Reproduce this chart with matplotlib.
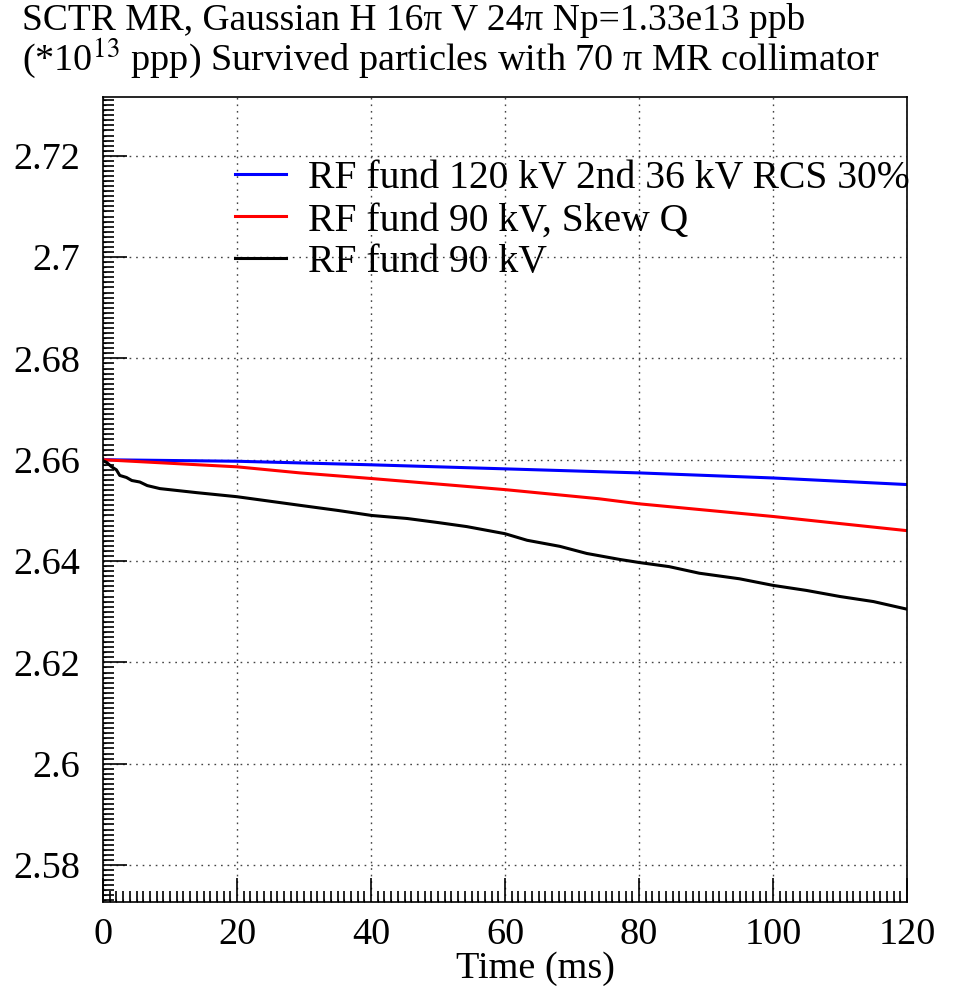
import matplotlib
matplotlib.use('Agg')
import matplotlib.pyplot as plt
from matplotlib.ticker import MultipleLocator

# Survived particles (*1e13 ppp) vs time (ms)
t_blue = [0, 20, 40, 60, 80, 100, 120]
v_blue = [2.6600, 2.6597, 2.6590, 2.6582, 2.6574, 2.6564, 2.6551]

t_red = [0, 20, 29.4, 40, 60, 74, 80, 100, 120]
v_red = [2.6600, 2.6586, 2.6574, 2.6563, 2.6541, 2.6523, 2.6513, 2.6488, 2.6460]

t_black = [0, 0.5, 1.3, 2.0, 2.5, 3.5, 4.3, 5.5, 6.6, 8.5, 14, 20, 29.4, 35, 40.1,
           45.4, 50, 54.3, 60, 63.3, 68.2, 72.2, 77.2, 80.1, 84.5, 89, 95, 100,
           105, 110, 115, 120]
v_black = [2.6598, 2.6595, 2.6586, 2.6580, 2.6569, 2.6565, 2.6559, 2.6556, 2.6549,
           2.6543, 2.6535, 2.6527, 2.6510, 2.6500, 2.6490, 2.6484, 2.6476, 2.6468,
           2.6454, 2.6441, 2.6429, 2.6415, 2.6403, 2.6397, 2.6389, 2.6376, 2.6365,
           2.6352, 2.6342, 2.6330, 2.6320, 2.6305]

labels = ['RF fund 120 kV 2nd 36 kV RCS 30%', 'RF fund 90 kV, Skew Q', 'RF fund 90 kV']
title1 = 'SCTR MR, Gaussian H 16\u03c0 V 24\u03c0 Np=1.33e13 ppb'
title2 = '(*10$^{13}$ ppp) Survived particles with 70 \u03c0 MR collimator'

plt.rcParams['font.family'] = ['Liberation Serif', 'DejaVu Serif']
plt.rcParams['mathtext.fontset'] = 'stix'

W, H = 955, 986
fs = 27.5
fig = plt.figure(figsize=(W / 100, H / 100), dpi=100)
rect = [103 / W, 1 - 902 / H, (907 - 103) / W, (902 - 97) / H]
ax = fig.add_axes(rect)

ax.plot(t_blue, v_blue, color='#0000ff', lw=2.2, label=labels[0])
ax.plot(t_red, v_red, color='#ff0000', lw=2.2, label=labels[1])
ax.plot(t_black, v_black, color='black', lw=2.2, label=labels[2])

ax.set_xlim(0, 120)
ax.set_ylim(2.5727, 2.7316)

ax.xaxis.set_major_locator(MultipleLocator(20))
ax.xaxis.set_minor_locator(MultipleLocator(5))
ax.yaxis.set_major_locator(MultipleLocator(0.02))
ax.yaxis.set_minor_locator(MultipleLocator(0.005))
ax.yaxis.set_major_formatter(plt.FuncFormatter(lambda v, p: f'{v:.2f}'.rstrip('0').rstrip('.')))

ax.tick_params(which='both', direction='in', top=False, right=False, width=1.2,
               labelsize=fs, color='black')
ax.tick_params(which='major', length=17)
ax.tick_params(which='minor', length=8)
ax.tick_params(axis='x', pad=11)
ax.tick_params(axis='y', pad=16.5)
for s in ax.spines.values():
    s.set_linewidth(1.2)

ax.grid(True, which='major', linestyle=(0, (1.2, 3.5)), color='#444444', lw=1.0)

# tertiary ticks on an overlay axes
ax3 = fig.add_axes(rect, sharex=ax, sharey=ax)
ax3.patch.set_visible(False)
for s in ax3.spines.values():
    s.set_visible(False)
ax3.xaxis.set_minor_locator(MultipleLocator(1))
ax3.yaxis.set_minor_locator(MultipleLocator(0.001))
ax3.tick_params(which='major', length=0, labelleft=False, labelbottom=False)
ax3.tick_params(which='minor', direction='in', length=2.5, width=0.8)

leg = ax.legend(loc='upper left', bbox_to_anchor=(235 / W, 1 - 160 / H),
                bbox_transform=fig.transFigure, frameon=False, fontsize=28.5,
                handlelength=1.3, handletextpad=0.55, labelspacing=0.13,
                borderpad=0, borderaxespad=0)

fig.text(22 / W, 1 - 30 / H, title1, fontsize=27, va='baseline', ha='left')
fig.text(22 / W, 1 - 70 / H, title2, fontsize=fs, va='baseline', ha='left')
fig.text(535 / W, 1 - 978 / H, 'Time (ms)', fontsize=fs, va='baseline', ha='center')

fig.savefig('out.png', dpi=100)
